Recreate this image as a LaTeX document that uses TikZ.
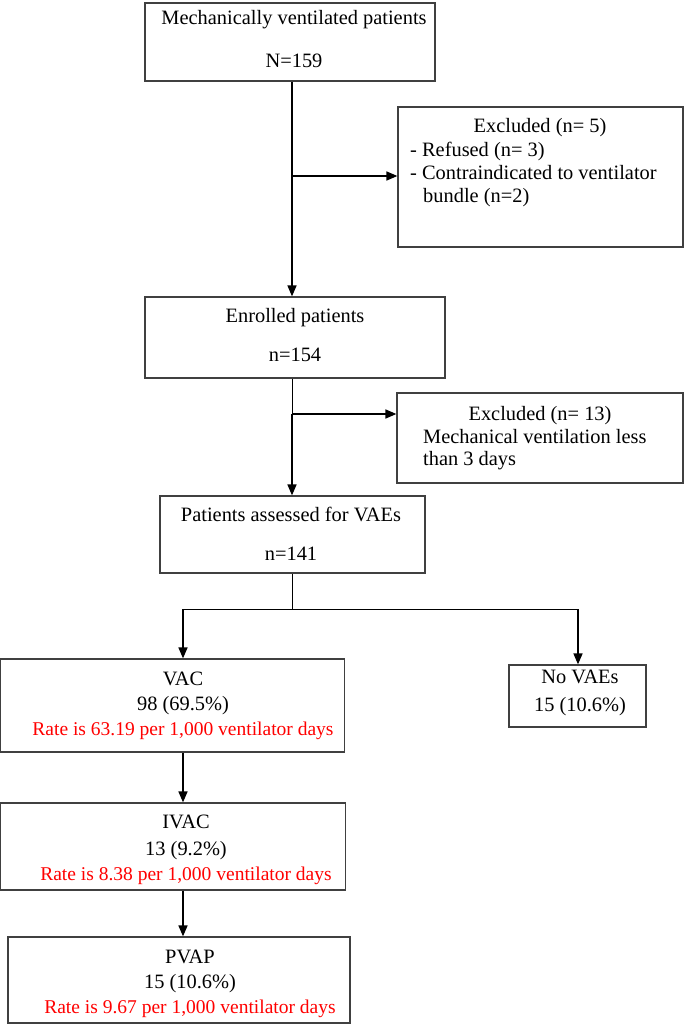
\documentclass[tikz,border=0pt]{standalone}
\usepackage{fontspec}
\setmainfont{Liberation Serif}
\usetikzlibrary{arrows.meta}
\begin{document}
\begin{tikzpicture}[x=1pt,y=-1pt,
  box/.style={draw=black!75,line width=1.2pt,rectangle,inner sep=0pt},
  ln/.style={inner sep=0pt,text height=14pt,text depth=4pt,font=\fontsize{20.4}{24}\selectfont},
  redln/.style={ln,text=red,font=\fontsize{19.5}{24}\selectfont},
  arr/.style={line width=1.6pt,-{Triangle[length=11pt,width=9pt]}},
  thinl/.style={line width=1pt}]
\path[use as bounding box] (0,0) rectangle (685,1025);
% boxes
\node[box,minimum width=290pt,minimum height=78pt] (b1) at (290,42) {};
\node[box,minimum width=285pt,minimum height=140pt] (ex1) at (540.5,177) {};
\node[box,minimum width=300pt,minimum height=81pt] (en) at (295,337.5) {};
\node[box,minimum width=286pt,minimum height=90pt] (ex2) at (540,438) {};
\node[box,minimum width=265pt,minimum height=77pt] (as) at (292.5,534.5) {};
\node[box,minimum width=344pt,minimum height=93pt] (vac) at (172.8,705.5) {};
\node[box,minimum width=137pt,minimum height=62pt] (nv) at (577.5,696) {};
\node[box,minimum width=345pt,minimum height=87pt] (ivac) at (173.3,846.5) {};
\node[box,minimum width=342pt,minimum height=86pt] (pvap) at (179,980) {};
% texts
\node[ln] (t1a) at (294,20) {Mechanically ventilated patients};
\node[ln] (t1b) at (294,62) {N=159};
\node[ln] (e1a) at (540,127) {Excluded (n= 5)};
\node[ln,anchor=west] (e1b) at (410,151) {- Refused (n= 3)};
\node[ln,anchor=west] (e1c) at (410,174) {- Contraindicated to ventilator};
\node[ln,anchor=west] (e1d) at (423,197) {bundle (n=2)};
\node[ln] (t2a) at (295,317) {Enrolled patients};
\node[ln] (t2b) at (295,356) {n=154};
\node[ln] (e2a) at (540,415) {Excluded (n= 13)};
\node[ln,anchor=west] (e2b) at (423,438) {Mechanical ventilation less};
\node[ln,anchor=west] (e2c) at (423,460) {than 3 days};
\node[ln] (t3a) at (291,516) {Patients assessed for VAEs};
\node[ln] (t3b) at (291,555) {n=141};
\node[ln] (v1) at (183,680) {VAC};
\node[ln] (v2) at (183,705) {98 (69.5\%)};
\node[redln] (v3) at (183,730) {Rate is 63.19 per 1,000 ventilator days};
\node[ln] (n1) at (580,678) {No VAEs};
\node[ln] (n2) at (580,706) {15 (10.6\%)};
\node[ln] (i1) at (186,823) {IVAC};
\node[ln] (i2) at (186,850) {13 (9.2\%)};
\node[redln] (i3) at (186,875) {Rate is 8.38 per 1,000 ventilator days};
\node[ln] (p1) at (190,958) {PVAP};
\node[ln] (p2) at (190,983) {15 (10.6\%)};
\node[redln] (p3) at (190,1008) {Rate is 9.67 per 1,000 ventilator days};
% junctions
\coordinate (j1) at (292,176);
\coordinate (j2) at (292,414);
\coordinate (j3) at (292,609);
\coordinate (jl) at (183,609);
\coordinate (jr) at (578,609);
% connectors
\draw[arr] (j1 |- b1.south) -- (j1 |- en.north);
\draw[arr] (j1) -- (j1 -| ex1.west);
\draw[thinl] (j2 |- en.south) -- (j2);
\draw[arr] (j2) -- (j2 |- as.north);
\draw[arr] (j2) -- (j2 -| ex2.west);
\draw[thinl] (j3 |- as.south) -- (j3);
\draw[thinl] (jl) -- (jr);
\draw[arr] (jl) -- (jl |- vac.north);
\draw[arr] (jr) -- (jr |- nv.north);
\draw[arr] (jl |- vac.south) -- (jl |- ivac.north);
\draw[arr] (jl |- ivac.south) -- (jl |- pvap.north);
\end{tikzpicture}
\end{document}
